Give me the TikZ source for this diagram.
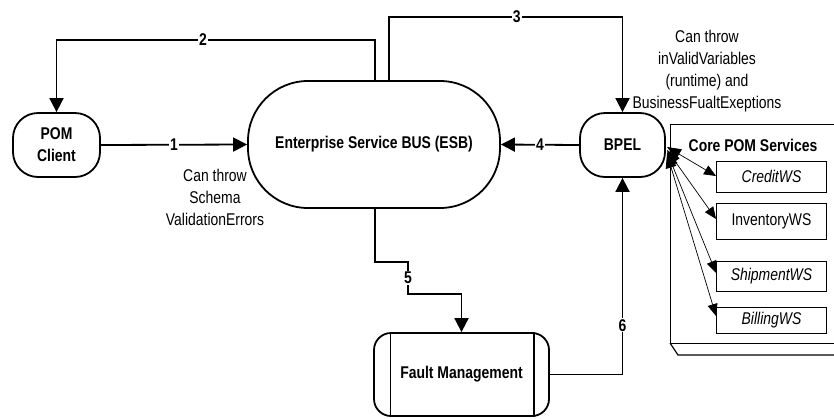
\documentclass[tikz,border=0pt]{standalone}
\usepackage{fontspec}
\setmainfont{Liberation Sans}[FakeStretch=0.82]
\usetikzlibrary{arrows.meta,calc}
\begin{document}
\begin{tikzpicture}[x=1pt,y=-1pt,
  font=\fontsize{17}{22}\selectfont,
  term/.style={draw,line width=1.8pt,rounded corners=25pt,align=center,font=\fontsize{17}{22}\selectfont\bfseries,inner sep=0pt},
  svc/.style={draw,line width=0.9pt,minimum width=110pt,inner sep=0pt},
  conn/.style={line width=1.8pt,-{Triangle[length=14pt,width=14pt]}},
  fan/.style={line width=0.7pt,{Triangle[length=14pt,width=11pt]}-{Triangle[length=12pt,width=10pt]}},
  lbl/.style={fill=white,inner sep=1pt,font=\fontsize{17}{22}\selectfont\bfseries},
  note/.style={align=center,inner sep=0pt}]
\useasboundingbox (0,0) rectangle (834,418);
\clip (0,0) rectangle (834,418);

% nodes
\node[term,minimum width=87pt,minimum height=64pt] (pom) at (56.5,145) {POM\\Client};
\node[term,minimum width=252pt,minimum height=127pt,rounded corners=60pt] (esb) at (374,144.5) {Enterprise Service BUS (ESB)};
\node[term,minimum width=85pt,minimum height=64pt] (bpel) at (622.5,145) {BPEL};
\node[term,minimum width=175pt,minimum height=83pt,rounded corners=17pt] (fm) at (461.5,374.5) {Fault Management};
\draw[line width=1.2pt] ($(fm.north west)+(17,0)$) -- ($(fm.south west)+(17,0)$);
\draw[line width=1.2pt] ($(fm.north east)+(-16,0)$) -- ($(fm.south east)+(-16,0)$);

% core services frame
\draw[line width=0.9pt] (840,124) -- (670,124) -- (670,343) -- (840,343);
\draw[line width=1.2pt] (670,343) -- (678,355) -- (840,355);
\node[font=\fontsize{17}{22}\selectfont\bfseries,inner sep=0pt] (core) at (753,145) {Core POM Services};
\node[svc,minimum height=31pt] (credit) at (771.5,176.5) {\itshape CreditWS};
\node[svc,minimum height=36pt] (inv) at (771.5,221.5) {InventoryWS};
\node[svc,minimum height=30pt] (ship) at (771.5,276) {\itshape ShipmentWS};
\node[svc,minimum height=26pt] (bill) at (771.5,320.5) {\itshape BillingWS};

% notes
\node[note] (n1) at (215,197.5) {Can throw\\Schema\\ValidationErrors};
\node[note] (n2) at (707,71.5) {Can throw\\inValidVariables\\(runtime) and\\BusinessFualtExeptions};

% connectors
\coordinate (c2) at (0,40);
\coordinate (c3) at (0,17);
\coordinate (k5a) at (408,262);
\coordinate (k5b) at (408,294);
\draw[conn] (pom.east) -- node[lbl]{1} (esb.west);
\draw[conn] ([xshift=1pt]esb.north) -- ([xshift=1pt]esb.north |- c2) -- node[lbl,pos=0.54]{2} (pom.north |- c2) -- (pom.north);
\draw[conn] ([xshift=15pt]esb.north) -- ([xshift=15pt]esb.north |- c3) -- node[lbl,pos=0.547]{3} (bpel.north |- c3) -- (bpel.north);
\draw[conn] (bpel.west) -- node[lbl]{4} (esb.east);
\draw[conn] ([xshift=1pt]esb.south) |- (k5a) -- node[lbl]{5} (k5b) -| (fm.north);
\draw[conn] (fm.east) -| node[lbl,pos=0.625]{6} (bpel.south);

% fan to services
\coordinate (f1) at (667,147);
\coordinate (f2) at (667,150);
\coordinate (f3) at (667,152);
\coordinate (f4) at (667,154);
\draw[fan] (f1) -- (credit.west |- 0,176);
\draw[fan] (f2) -- (inv.west |- 0,219);
\draw[fan] (f3) -- (ship.west |- 0,273);
\draw[fan] (f4) -- (bill.west |- 0,316);
\end{tikzpicture}
\end{document}
